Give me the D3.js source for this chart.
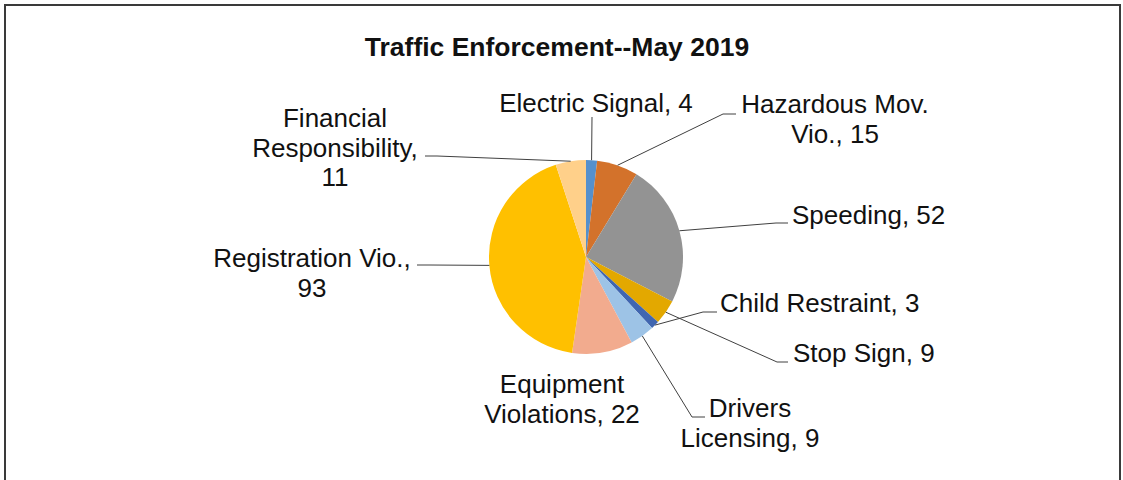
<!DOCTYPE html>
<html>
<head>
<meta charset="utf-8">
<script src="https://cdn.jsdelivr.net/npm/d3@7"></script>
<style>
  body { margin: 0; background: #fff; }
  text { font-family: Arial, "Liberation Sans", sans-serif; fill: #111; }
</style>
</head>
<body>
<script>
// data
var categories = ["Electric Signal", "Hazardous Mov. Vio.", "Speeding", "Stop Sign", "Child Restraint",
                  "Drivers Licensing", "Equipment Violations", "Registration Vio.", "Financial Responsibility"];
var values = [4, 15, 52, 9, 3, 9, 22, 93, 11];
var colors = ["#5590CC", "#D3722B", "#939393", "#E3A800", "#4066B0",
              "#9DC3E6", "#F2AB8E", "#FFC000", "#FFD08A"];
// words per label line
var lineBreaks = [[3], [2, 2], [2], [3], [3], [1, 2], [1, 2], [2, 1], [1, 1, 1]];

var width = 1123,
    height = 480,
    cx = 586,
    cy = 257,
    r = 97,
    lineH = 29.5;

// label layout: x, first baseline, anchor, leader points (after the pie edge)
var labelPos = [
  {x: 596, y: 112, anchor: "middle", leader: [[592, 117]]},
  {x: 835, y: 113, anchor: "middle", leader: [[723, 114], [736, 114]]},
  {x: 792, y: 224, anchor: "start", leader: [[776, 223], [788, 223]]},
  {x: 793, y: 362, anchor: "start", leader: [[777, 362], [788, 362]]},
  {x: 720, y: 312, anchor: "start", leader: [[703, 312], [717, 312]]},
  {x: 750, y: 417, anchor: "middle", leader: [[692, 417], [705, 417]]},
  {x: 562, y: 393, anchor: "middle", leader: null},
  {x: 312, y: 267, anchor: "middle", leader: [[430, 265], [417, 265]]},
  {x: 335, y: 127, anchor: "middle", leader: [[437, 156], [425, 156]]}
];

var svg = d3.select("body").append("svg")
    .attr("width", width)
    .attr("height", height);

svg.append("rect")
    .attr("x", 5).attr("y", 5)
    .attr("width", 1115).attr("height", 500)
    .attr("fill", "#fff")
    .attr("stroke", "#3a3a3a")
    .attr("stroke-width", 2);

svg.append("text")
    .attr("x", 557).attr("y", 56)
    .attr("text-anchor", "middle")
    .style("font-size", "26.5px")
    .style("font-weight", "bold")
    .text("Traffic Enforcement--May 2019");

var pie = d3.pie().sort(null).value(function(d) { return d; });
var arcs = pie(values);
var arc = d3.arc().innerRadius(0).outerRadius(r);

var g = svg.append("g").attr("transform", "translate(" + cx + "," + cy + ")");

g.selectAll("path")
    .data(arcs)
    .enter().append("path")
    .attr("d", arc)
    .attr("fill", function(d, i) { return colors[i]; });

// leader lines
var line = d3.line();
arcs.forEach(function(d, i) {
  var p = labelPos[i];
  if (!p.leader) return;
  var a = (d.startAngle + d.endAngle) / 2;
  var pts = [[cx + Math.sin(a) * r, cy - Math.cos(a) * r]].concat(p.leader);
  svg.append("path")
      .attr("d", line(pts))
      .attr("fill", "none")
      .attr("stroke", "#404040")
      .attr("stroke-width", 1);
});

// labels
categories.forEach(function(name, i) {
  var words = (name + ", " + values[i]).split(" ");
  var lines = [], k = 0;
  lineBreaks[i].forEach(function(n) {
    lines.push(words.slice(k, k + n).join(" "));
    k += n;
  });
  var p = labelPos[i];
  var t = svg.append("text")
      .attr("text-anchor", p.anchor)
      .style("font-size", "26px");
  lines.forEach(function(s, j) {
    t.append("tspan")
        .attr("x", p.x)
        .attr("y", p.y + j * lineH)
        .text(s);
  });
});
</script>
</body>
</html>
